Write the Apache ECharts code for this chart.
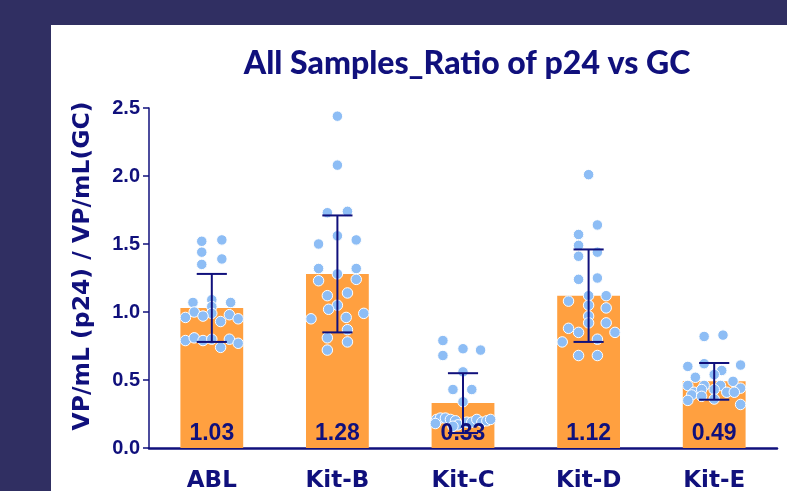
<!DOCTYPE html>
<html>
<head>
<meta charset="utf-8">
<script src="https://cdn.jsdelivr.net/npm/echarts@6/dist/echarts.min.js"></script>
<style>
html,body{margin:0;padding:0;background:#302F62;}
#chart{width:787px;height:491px;}
</style>
</head>
<body>
<div id="chart"></div>
<script>
// ---- data ----
var categories = ['ABL', 'Kit-B', 'Kit-C', 'Kit-D', 'Kit-E'];
var means = [1.03, 1.28, 0.33, 1.12, 0.49];
var sds = [0.25, 0.43, 0.22, 0.34, 0.135];
var yTicks = [0.0, 0.5, 1.0, 1.5, 2.0, 2.5];

var ablValues  = [1.52, 1.53, 1.44, 1.35, 1.39, 1.07, 1.09, 1.07, 1.04, 1.00, 0.99, 0.96, 0.97, 0.98, 0.93, 0.95, 0.79, 0.81, 0.79, 0.80, 0.80, 0.74, 0.77];
var ablJitter  = [-0.08, 0.08, -0.08, -0.08, 0.08, -0.15, 0, 0.15, 0, -0.14, 0, -0.21, -0.07, 0.14, 0.07, 0.21, -0.21, -0.14, -0.07, 0, 0.14, 0.07, 0.21];
var kitBValues = [2.44, 2.08, 1.73, 1.74, 1.56, 1.50, 1.53, 1.32, 1.32, 1.28, 1.23, 1.24, 1.12, 1.14, 1.05, 1.02, 0.95, 0.96, 0.99, 0.87, 0.81, 0.78, 0.72];
var kitBJitter = [0, 0, -0.08, 0.08, 0, -0.15, 0.15, -0.15, 0.15, 0, -0.15, 0.15, -0.08, 0.08, 0, -0.07, -0.21, 0.07, 0.21, 0.08, -0.08, 0.08, -0.08];
var kitCValues = [0.79, 0.73, 0.72, 0.68, 0.56, 0.43, 0.43, 0.34, 0.21, 0.22, 0.22, 0.21, 0.20, 0.18, 0.17, 0.19, 0.19, 0.21, 0.19, 0.20, 0.21, 0.16];
var kitCJitter = [-0.16, 0, 0.14, -0.16, 0, -0.08, 0.07, 0, -0.21, -0.18, -0.14, -0.1, -0.06, -0.22, -0.04, 0.03, 0.07, 0.11, 0.15, 0.19, 0.22, -0.08];
var kitDValues = [2.01, 1.64, 1.57, 1.49, 1.44, 1.41, 1.24, 1.25, 1.12, 1.12, 1.08, 1.05, 1.03, 0.97, 0.92, 0.92, 0.88, 0.85, 0.85, 0.80, 0.78, 0.68, 0.68];
var kitDJitter = [0, 0.07, -0.08, -0.08, 0.07, -0.08, -0.08, 0.07, 0, 0.14, -0.16, 0, 0.14, 0, 0, 0.14, -0.16, -0.08, 0.21, 0.07, -0.21, -0.08, 0.07];
var kitEValues = [0.82, 0.83, 0.60, 0.62, 0.61, 0.57, 0.52, 0.54, 0.49, 0.46, 0.46, 0.46, 0.44, 0.41, 0.43, 0.43, 0.41, 0.41, 0.39, 0.38, 0.36, 0.35, 0.32];
var kitEJitter = [-0.08, 0.07, -0.21, -0.08, 0.21, 0.06, -0.15, 0, 0.15, -0.21, -0.08, 0.05, 0.21, -0.16, -0.1, 0, 0.1, 0.16, -0.18, -0.1, 0, -0.21, 0.21];

var groupValues = [ablValues, kitBValues, kitCValues, kitDValues, kitEValues];
var groupJitter = [ablJitter, kitBJitter, kitCJitter, kitDJitter, kitEJitter];

// ---- build ----
var NAVY = '#10107c';
var scatterData = [];
groupValues.forEach(function (vals, gi) {
  vals.forEach(function (v, k) {
    scatterData.push([gi + groupJitter[gi][k], v]);
  });
});
var errData = means.map(function (m, i) { return [i, m, sds[i]]; });

var chart = echarts.init(document.getElementById('chart'));
chart.setOption({
  backgroundColor: '#302F62',
  animation: false,
  graphic: [{
    type: 'rect', left: 51, top: 25, z: -10,
    shape: { width: 736, height: 466 },
    style: { fill: '#ffffff' }
  }],
  title: {
    text: 'All Samples_Ratio of p24 vs GC',
    left: 462, top: 43, textAlign: 'center',
    textStyle: { fontFamily: 'Lato', fontWeight: 900, fontSize: 32, color: NAVY }
  },
  grid: { left: 149, right: 10, top: 108, bottom: 43, containLabel: false, outerBoundsMode: 'none' },
  xAxis: [{
    type: 'category', data: categories,
    axisLine: { lineStyle: { color: NAVY, width: 2.5 } },
    axisTick: { show: false },
    axisLabel: { color: NAVY, fontFamily: 'DejaVu Sans', fontWeight: 'bold', fontSize: 23, margin: 22 }
  }, {
    type: 'value', min: -0.5, max: 4.5, show: false
  }],
  yAxis: {
    type: 'value', min: yTicks[0], max: yTicks[yTicks.length - 1], interval: 0.5,
    name: 'VP/mL (p24) / VP/mL(GC)', nameLocation: 'middle', nameGap: 54,
    nameTextStyle: { color: NAVY, fontFamily: 'DejaVu Sans', fontWeight: 'bold', fontSize: 23.5, padding: [0, 0, 0, 24] },
    axisLine: { show: true, onZero: false, lineStyle: { color: NAVY, width: 1.5 } },
    axisTick: { show: true, length: 6, lineStyle: { color: NAVY, width: 1.5 } },
    splitLine: { show: false },
    axisLabel: {
      color: NAVY, fontFamily: 'Liberation Sans', fontWeight: 'bold', fontSize: 20, margin: 9,
      formatter: function (v) { return v.toFixed(1); }
    }
  },
  series: [{
    type: 'bar', data: means, barWidth: '50%', z: 1, silent: true,
    itemStyle: { color: '#FFA040' }
  }, {
    type: 'scatter', xAxisIndex: 1, data: scatterData, z: 2, silent: true,
    symbolSize: 10.5,
    itemStyle: { color: '#8DBDF5', borderColor: '#ffffff', borderWidth: 1, opacity: 1 }
  }, {
    type: 'bar', data: means, barWidth: '50%', barGap: '-100%', z: 3, silent: true,
    itemStyle: { color: 'rgba(0,0,0,0)' },
    label: {
      show: true, position: 'insideBottom', distance: 3,
      color: NAVY, fontFamily: 'Liberation Sans', fontWeight: 'bold', fontSize: 23,
      formatter: function (p) { return p.value.toFixed(2); }
    }
  }, {
    type: 'custom', data: errData, z: 4, silent: true,
    renderItem: function (params, api) {
      var i = api.value(0), m = api.value(1), s = api.value(2);
      var hi = api.coord([i, m + s]);
      var lo = api.coord([i, m - s]);
      var hw = api.size([1, 0])[0] * 0.12;
      var st = { stroke: NAVY, lineWidth: 2 };
      return {
        type: 'group',
        children: [
          { type: 'line', shape: { x1: hi[0], y1: hi[1], x2: lo[0], y2: lo[1] }, style: st },
          { type: 'line', shape: { x1: hi[0] - hw, y1: hi[1], x2: hi[0] + hw, y2: hi[1] }, style: st },
          { type: 'line', shape: { x1: lo[0] - hw, y1: lo[1], x2: lo[0] + hw, y2: lo[1] }, style: st }
        ]
      };
    }
  }]
});
</script>
</body>
</html>
